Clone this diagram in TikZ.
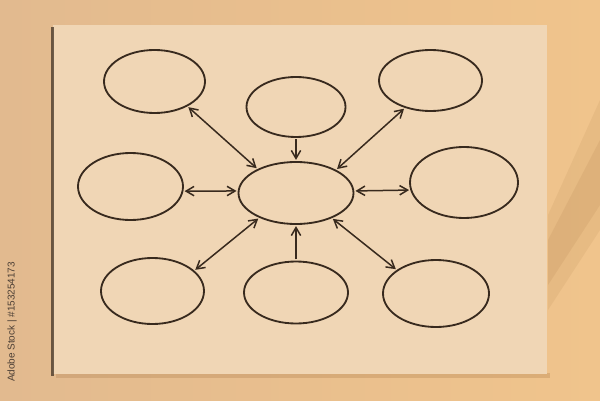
\documentclass[tikz,border=0pt]{standalone}
\usepackage{fontspec}
\usepackage{tikz}
\usepackage{xcolor}
\usetikzlibrary{shapes.geometric,arrows.meta}
\newfontfamily\stockfont{Liberation Sans}
\definecolor{wall}{RGB}{226,186,143}
\definecolor{wallright}{RGB}{240,196,140}
\definecolor{paper}{RGB}{240,214,181}
\definecolor{dusk}{RGB}{160,110,60}
\definecolor{ink}{RGB}{56,42,30}

\begin{document}
\begin{tikzpicture}[x=0.03cm, y=-0.03cm,
        bubble/.style={draw=ink, ellipse, line width=0.055cm, inner sep=0pt},
        link/.style={draw=ink, line width=0.045cm, shorten <=1pt, shorten >=1pt},
        >={Straight Barb[length=0.24cm, width=0.28cm]}]
        \useasboundingbox (0,0) rectangle (600,401);
        \fill[left color=wall, right color=wallright] (0,0) rectangle (600,401);
        \fill[dusk, opacity=0.10] (548,215) -- (600,100) -- (600,230) -- (548,310) -- cycle;
        \fill[dusk, opacity=0.12] (548,240) -- (600,140) -- (600,205) -- (548,285) -- cycle;
        \fill[dusk, opacity=0.25] (56,373) rectangle (550,378);
        \fill[paper] (53,25) rectangle (547,374);
        \fill[ink, opacity=0.7] (51,27) rectangle (54,376);

        \node [bubble, minimum width=3.03cm, minimum height=1.89cm] (tl) at (154.5,81.5) {};
        \node [bubble, minimum width=2.97cm, minimum height=1.80cm] (tc) at (296,107) {};
        \node [bubble, minimum width=3.09cm, minimum height=1.83cm] (tr) at (430.5,80.5) {};
        \node [bubble, minimum width=3.15cm, minimum height=2.01cm] (ml) at (130.5,186.5) {};
        \node [bubble, minimum width=3.45cm, minimum height=1.86cm] (hub) at (296,193) {};
        \node [bubble, minimum width=3.24cm, minimum height=2.13cm] (mr) at (464,182.5) {};
        \node [bubble, minimum width=3.09cm, minimum height=1.98cm] (bl) at (152.5,291) {};
        \node [bubble, minimum width=3.12cm, minimum height=1.86cm] (bc) at (296,292.5) {};
        \node [bubble, minimum width=3.18cm, minimum height=2.01cm] (br) at (436,293.5) {};
        \node [rotate=90, text=ink!90, font=\stockfont\fontsize{8.5}{10}\selectfont] (tag) at (12,322) {Adobe Stock | \#153254173};

        \draw [link, <->] (tl.-37) -- (hub.148);
        \draw [link, ->] (tc.south) -- (hub.north);
        \draw [link, <->] (tr.227) -- (hub.30);
        \draw [link, <->] (ml.-5) -- (hub.178);
        \draw [link, <->] (hub.2) -- (mr.188);
        \draw [link, <->] (hub.214) -- (bl.26);
        \draw [link, ->] (bc.north) -- (hub.south);
        \draw [link, <->] (hub.-35) -- (br.149);
    \end{tikzpicture}
\end{document}
